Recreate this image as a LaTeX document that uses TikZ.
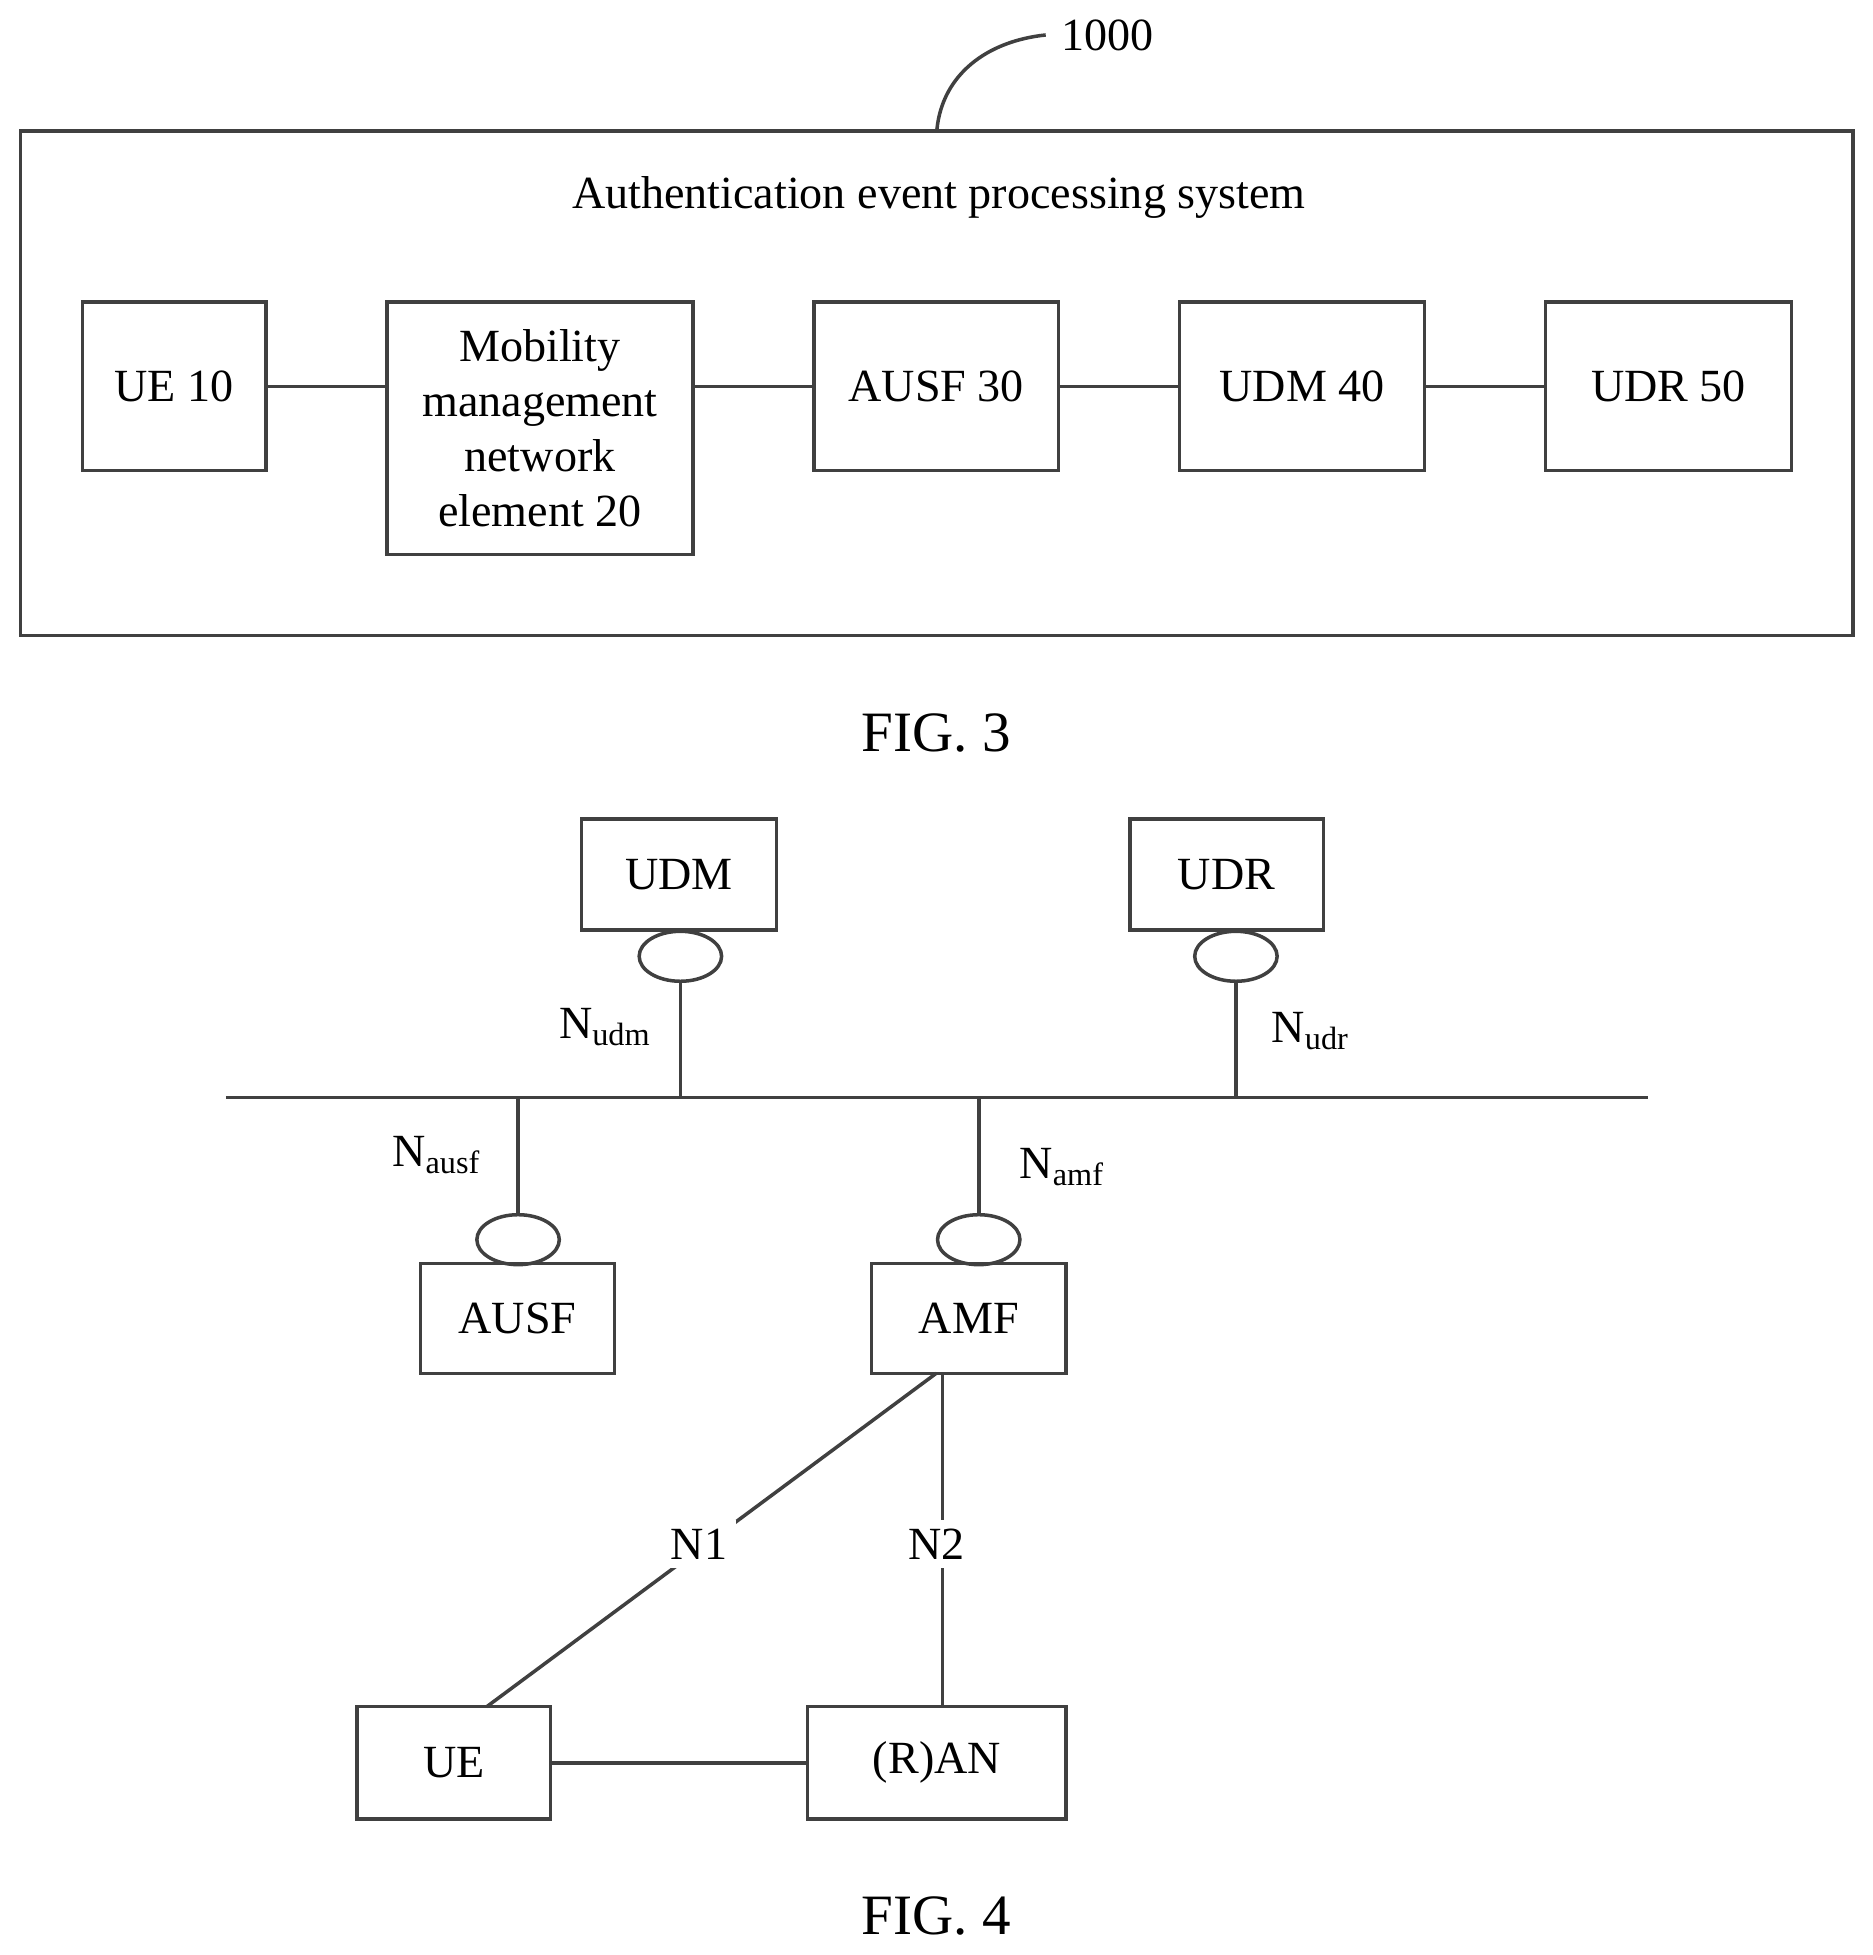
\documentclass[tikz,border=0pt]{standalone}
\usepackage{fontspec}
\setmainfont{Liberation Serif}
\usetikzlibrary{shapes.geometric}
\tikzset{
  blk/.style={draw=black!75, line width=0.8pt, inner sep=0pt, align=center},
  iface/.style={draw=black!75, line width=0.8pt, ellipse, minimum width=0.66cm, minimum height=0.4cm, inner sep=0pt},
  ln/.style={draw=black!75, line width=0.8pt}
}
\begin{document}
\begin{tikzpicture}[x=0.01cm, y=-0.01cm, font=\fontsize{10.5}{12.5}\selectfont]
\useasboundingbox (0,0) rectangle (1500,1566);
% FIG. 3
\node[blk, minimum width=14.67cm, minimum height=4.04cm] (sys) at (750.5,307) {};
\node (title) at (752,158) {Authentication event processing system};
\node (num) at (887,28) {1000};
\draw[ln] (sys.north) .. controls (755,60) and (790,33) .. (num.west);
\node[blk, minimum width=1.47cm, minimum height=1.35cm] (ue10) at (139.5,309.5) {UE 10};
\node[blk, minimum width=2.45cm, minimum height=2.02cm] (mme) at (432.5,343) {Mobility\\management\\network\\element 20};
\node[blk, minimum width=1.96cm, minimum height=1.35cm] (ausf30) at (750,309.5) {AUSF 30};
\node[blk, minimum width=1.96cm, minimum height=1.35cm] (udm40) at (1043,309.5) {UDM 40};
\node[blk, minimum width=1.97cm, minimum height=1.35cm] (udr50) at (1336.5,309.5) {UDR 50};
\draw[ln] (ue10.east) -- (ue10.east -| mme.west);
\draw[ln] (mme.east |- ausf30.west) -- (ausf30.west);
\draw[ln] (ausf30) -- (udm40);
\draw[ln] (udm40) -- (udr50);
\node (fig3) at (750,587) {\fontsize{13}{15}\selectfont FIG. 3};
% FIG. 4
\coordinate (busL) at (181,879);
\coordinate (busR) at (1320,879);
\draw[ln] (busL) -- (busR);
\node[blk, minimum width=1.56cm, minimum height=0.89cm] (udm) at (544,700.5) {UDM};
\node[blk, minimum width=1.55cm, minimum height=0.89cm] (udr) at (982.5,700.5) {UDR};
\node[blk, minimum width=1.55cm, minimum height=0.88cm] (ausf) at (414.5,1056) {AUSF};
\node[blk, minimum width=1.56cm, minimum height=0.88cm] (amf) at (776,1056) {AMF};
\node[blk, minimum width=1.55cm, minimum height=0.90cm] (ue) at (363.5,1412) {UE};
\node[blk, minimum width=2.07cm, minimum height=0.90cm] (ran) at (750.5,1412) {(R)AN};
\node[iface] (eudm) at (545,766) {};
\node[iface] (eudr) at (990,766) {};
\node[iface] (eausf) at (415,993) {};
\node[iface] (eamf) at (784,993) {};
\coordinate (tudm) at (545,879);
\coordinate (tudr) at (990,879);
\coordinate (tausf) at (415,879);
\coordinate (tamf) at (784,879);
\draw[ln] (eudm) -- (tudm);
\draw[ln] (eudr) -- (tudr);
\draw[ln] (tausf) -- (eausf);
\draw[ln] (tamf) -- (eamf);
\node (lnudm) at (485,823) {N\textsubscript{udm}};
\node (lnudr) at (1050,826) {N\textsubscript{udr}};
\node (lnausf) at (350,925) {N\textsubscript{ausf}};
\node (lnamf) at (851,935) {N\textsubscript{amf}};
\coordinate (amfN1) at (750,1100);
\coordinate (ueN1) at (390,1367);
\draw[ln] (amfN1) -- (ueN1);
\coordinate (amfN2) at (755,1100);
\coordinate (ranN2) at (755,1367);
\draw[ln] (amfN2) -- (ranN2);
\node[fill=white, inner sep=2pt] (n1) at (560,1237) {N1};
\node[fill=white, inner sep=2pt] (n2) at (750,1237) {N2};
\draw[ln] (ue) -- (ran);
\node (fig4) at (750,1535) {\fontsize{13}{15}\selectfont FIG. 4};
\end{tikzpicture}
\end{document}
